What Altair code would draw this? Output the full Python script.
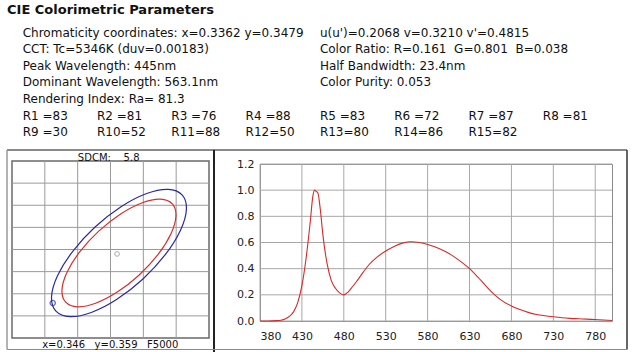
import altair as alt
import pandas as pd

FONT = "DejaVu Sans"
NB = "\u00a0"

# ---------------- header texts ----------------
title_text = "CIE Colorimetric Parameters"
info_left = [
    "Chromaticity coordinates: x=0.3362 y=0.3479",
    "CCT: Tc=5346K (duv=0.00183)",
    "Peak Wavelength: 445nm",
    "Dominant Wavelength: 563.1nm",
    "Rendering Index: Ra= 81.3",
]
info_right = [
    NB + NB + "u(u')=0.2068 v=0.3210 v'=0.4815",
    "Color Ratio: R=0.161" + NB + NB + "G=0.801" + NB + NB + "B=0.038",
    "Half Bandwidth: 23.4nm",
    "Color Purity: 0.053",
]
ri_labels = ["R1 =83", "R2 =81", "R3 =76", "R4 =88", "R5 =83", "R6 =72", "R7 =87", "R8 =81",
             "R9 =30", "R10=52", "R11=88", "R12=50", "R13=80", "R14=86", "R15=82"]

sdcm_text = "SDCM:" + NB * 4 + "5.8"
ref_text = "x=0.346" + NB * 3 + "y=0.359" + NB * 3 + "F5000"

# ---------------- spectrum ----------------
wavelength = [380, 390, 400, 405, 410, 415, 420, 425, 430, 435,
              440, 443, 445, 447, 449, 452, 455, 460, 465, 470,
              475, 480, 485, 490, 495, 500, 510, 520, 530, 540,
              550, 560, 570, 580, 590, 600, 610, 620, 630, 640,
              650, 660, 670, 680, 690, 700, 710, 720, 730, 740,
              750, 760, 770, 780, 790, 800]
relative = [0.0, 0.0, 0.003, 0.006, 0.015, 0.035, 0.07, 0.14, 0.27, 0.48,
            0.76, 0.95, 1.0, 0.99, 0.98, 0.85, 0.66, 0.44, 0.31, 0.25,
            0.215, 0.2, 0.22, 0.26, 0.30, 0.345, 0.43, 0.49, 0.535, 0.57,
            0.595, 0.606, 0.6, 0.585, 0.563, 0.535, 0.498, 0.452, 0.40, 0.335,
            0.265, 0.2, 0.15, 0.115, 0.088, 0.066, 0.05, 0.04, 0.032, 0.025,
            0.02, 0.017, 0.014, 0.011, 0.008, 0.004]

# ---------------- SDCM ellipses (CIE x, y) ----------------
blue_x = [0.35590, 0.35656, 0.35566, 0.35334, 0.34994, 0.34598, 0.34208, 0.33882,
          0.33669, 0.33602, 0.33693, 0.33925, 0.34265, 0.34660, 0.35051, 0.35377]
blue_y = [0.37235, 0.36911, 0.36436, 0.35882, 0.35334, 0.34875, 0.34577, 0.34482,
          0.34606, 0.34931, 0.35406, 0.35959, 0.36507, 0.36966, 0.37265, 0.37360]
red_x = [0.35441, 0.35497, 0.35421, 0.35225, 0.34937, 0.34603, 0.34273, 0.33998,
         0.33818, 0.33761, 0.33838, 0.34034, 0.34321, 0.34655, 0.34986, 0.35261]
red_y = [0.37031, 0.36758, 0.36356, 0.35888, 0.35425, 0.35037, 0.34785, 0.34705,
         0.34810, 0.35084, 0.35486, 0.35953, 0.36416, 0.36804, 0.37057, 0.37137]
ref_x, ref_y = [0.346], [0.359]
meas_x, meas_y = [0.3362], [0.3479]

grid_x = [0.335, 0.34, 0.345, 0.35, 0.355]
grid_y = [0.345, 0.35, 0.355, 0.36, 0.365, 0.37, 0.375]
spec_ticks = [380, 430, 480, 530, 580, 630, 680, 730, 780]
rel_ticks = [0.0, 0.2, 0.4, 0.6, 0.8, 1.0, 1.2]

# ---------------- header chart ----------------
rows = []
for i, t in enumerate(info_left):
    rows.append({"text": t, "col": 0, "row": i})
for i, t in enumerate(info_right):
    rows.append({"text": t, "col": 4, "row": i})
for k, t in enumerate(ri_labels):
    rows.append({"text": t, "col": k % 8, "row": 5 + k // 8})
header_df = pd.DataFrame(rows)

one = pd.DataFrame({"k": [0]})

header_text = alt.Chart(header_df).mark_text(
    align="left", baseline="middle", font=FONT, fontSize=12, color="#111111"
).encode(
    x=alt.X("col:Q", scale=alt.Scale(domain=[0, 8], range=[22.7, 22.7 + 8 * 74.3]), axis=None),
    y=alt.Y("row:Q", scale=alt.Scale(domain=[0, 6], range=[32.5, 32.5 + 6 * 16.65]), axis=None),
    text="text:N",
)
title_layer = alt.Chart(pd.DataFrame({"text": [title_text]})).mark_text(
    align="left", baseline="middle", font=FONT, fontSize=13, fontWeight="bold", color="#111111"
).encode(x=alt.value(7), y=alt.value(10), text="text:N")

def hrule(x1, x2, y, color, w):
    return alt.Chart(one).mark_rule(color=color, strokeWidth=w).encode(
        x=alt.value(x1), x2=alt.value(x2), y=alt.value(y))

def vrule(x, y1, y2, color, w):
    return alt.Chart(one).mark_rule(color=color, strokeWidth=w).encode(
        x=alt.value(x), y=alt.value(y1), y2=alt.value(y2))

frame = [
    hrule(7, 627, 150, "#8a8a8a", 2),
    vrule(7, 150, 349.5, "#9a9a9a", 1.5),
    vrule(214, 150, 352, "#222222", 2),
    vrule(627, 150, 349.5, "#333333", 1.5),
    hrule(7, 627, 349.5, "#8a8a8a", 1),
]

header = alt.layer(title_layer, header_text, *frame).properties(width=636, height=161)

# ---------------- left panel ----------------
ell_rows = []
for i, (x, y) in enumerate(zip(blue_x, blue_y)):
    ell_rows.append({"x": x, "y": y, "series": "SDCM 5.8", "idx": i})
for i, (x, y) in enumerate(zip(red_x, red_y)):
    ell_rows.append({"x": x, "y": y, "series": "SDCM 5", "idx": i})
ell_df = pd.DataFrame(ell_rows)

xs = alt.Scale(domain=[0.33, 0.36], nice=False, zero=False)
ys = alt.Scale(domain=[0.34, 0.38], nice=False, zero=False)

gx_left = alt.Chart(pd.DataFrame({"gx": grid_x})).mark_rule(color="#9a9a9a", strokeWidth=1).encode(
    x=alt.X("gx:Q", scale=xs, axis=None))
gy_left = alt.Chart(pd.DataFrame({"gy": grid_y})).mark_rule(color="#9a9a9a", strokeWidth=1).encode(
    y=alt.Y("gy:Q", scale=ys, axis=None))

ellipses = alt.Chart(ell_df).mark_line(interpolate="cardinal-closed", strokeWidth=1.2).encode(
    x=alt.X("x:Q", scale=xs, axis=None),
    y=alt.Y("y:Q", scale=ys, axis=None),
    color=alt.Color("series:N", scale=alt.Scale(domain=["SDCM 5.8", "SDCM 5"],
                                                range=["#2a2aa0", "#d43030"]), legend=None),
    detail="series:N",
    order="idx:Q",
)
ref_pt = alt.Chart(pd.DataFrame({"x": ref_x, "y": ref_y})).mark_point(
    shape="circle", filled=False, color="#888888", size=22, strokeWidth=1
).encode(x=alt.X("x:Q", scale=xs, axis=None), y=alt.Y("y:Q", scale=ys, axis=None))
meas_pt = alt.Chart(pd.DataFrame({"x": meas_x, "y": meas_y})).mark_point(
    shape="circle", filled=False, color="#2a2aa0", size=28, strokeWidth=1.3
).encode(x=alt.X("x:Q", scale=xs, axis=None), y=alt.Y("y:Q", scale=ys, axis=None))
sdcm_lbl = alt.Chart(pd.DataFrame({"t": [sdcm_text]})).mark_text(
    font=FONT, fontSize=10, color="#111111", align="center", baseline="middle"
).encode(x=alt.value(96.7), y=alt.value(-3.5), text="t:N")
ref_lbl = alt.Chart(pd.DataFrame({"t": [ref_text]})).mark_text(
    font=FONT, fontSize=10, color="#111111", align="center", baseline="middle"
).encode(x=alt.value(98.2), y=alt.value(184), text="t:N")

left = alt.layer(gx_left, gy_left, ellipses, ref_pt, meas_pt, sdcm_lbl, ref_lbl).properties(
    width=197, height=177, view=alt.ViewBackground(stroke="#6a6a6a", strokeWidth=1.5))

# ---------------- right panel ----------------
sx = alt.Scale(domain=[380, 800], nice=False, zero=False)
sy = alt.Scale(domain=[0, 1.2], nice=False)
x_axis = alt.Axis(values=spec_ticks, grid=False, ticks=False, domain=False,
                  labelFontSize=11, labelPadding=9, labelColor="#222222",
                  labelFont=FONT, title=None)
y_axis = alt.Axis(values=rel_ticks, format=".1f", grid=False, ticks=False, domain=False,
                  labelFontSize=11, labelPadding=6, labelColor="#222222",
                  labelFont=FONT, title=None)
spec_df = pd.DataFrame({"wl": wavelength, "rel": relative})

gx_right = alt.Chart(pd.DataFrame({"wl": spec_ticks})).mark_rule(color="#a8a8a8", strokeWidth=1).encode(
    x=alt.X("wl:Q", scale=sx, axis=x_axis))
gy_right = alt.Chart(pd.DataFrame({"rel": rel_ticks})).mark_rule(color="#a8a8a8", strokeWidth=1).encode(
    y=alt.Y("rel:Q", scale=sy, axis=y_axis))

spec_line = alt.Chart(spec_df).mark_line(color="#d42a2a", strokeWidth=1.1, interpolate="monotone").encode(
    x=alt.X("wl:Q", scale=sx, axis=x_axis),
    y=alt.Y("rel:Q", scale=sy, axis=y_axis),
)
right = alt.layer(gx_right, gy_right, spec_line).properties(
    width=352, height=157, view=alt.ViewBackground(stroke="#8a8a8a", strokeWidth=1))

def spacer(w, h):
    return alt.Chart(one).mark_text(text="").encode(x=alt.value(0), y=alt.value(0)).properties(width=w, height=h)

bottom = alt.hconcat(
    spacer(12, 177), left, spacer(51, 177),
    alt.vconcat(spacer(352, 3), right, spacing=0, bounds="flush"),
    spacing=0, bounds="flush",
)

chart = alt.vconcat(header, bottom, spacing=0, bounds="flush").properties(
    padding=0, background="white"
).configure_view(stroke=None)

chart.save("out.html", embed_options={"renderer": "svg", "actions": False})
